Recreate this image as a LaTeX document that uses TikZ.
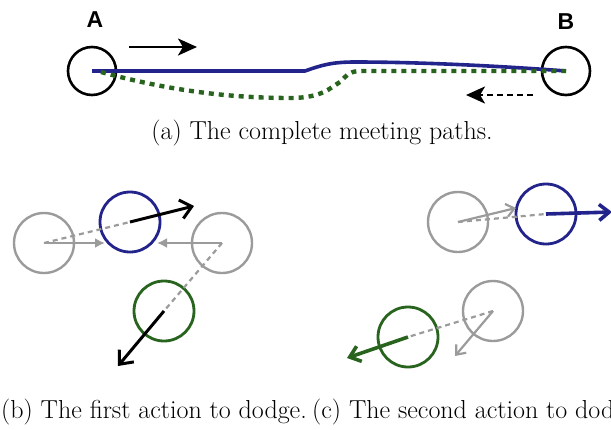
\documentclass[tikz,border=0pt]{standalone}
\usepackage{fontspec}
\newfontfamily\labfont{Liberation Sans}
\usetikzlibrary{arrows.meta}
\definecolor{pblue}{RGB}{35,35,140}
\definecolor{pgreen}{RGB}{40,100,30}
\definecolor{pgray}{RGB}{155,155,155}
\begin{document}
\begin{tikzpicture}[x=1pt,y=-1pt,
  endpt/.style={circle,draw=black,line width=2.6,minimum size=48,inner sep=0},
  agent/.style={circle,draw=pgray,line width=2.4,minimum size=60,inner sep=0},
  bagent/.style={agent,draw=pblue,line width=2.8},
  gagent/.style={agent,draw=pgreen,line width=2.8},
  captext/.style={font=\fontsize{26}{30}\selectfont,inner sep=0},
  lab/.style={font=\labfont\bfseries\fontsize{23}{27}\selectfont,inner sep=0},
  bigarrow/.style={line width=2.6,-{Stealth[length=19,width=17,inset=5]}},
  blackvel/.style={line width=3,-{Straight Barb[length=11,width=19]}},
  grayvel/.style={pgray,line width=2.2,-{Latex[length=10,width=10]}},
  grayvelc/.style={pgray,line width=2.2,-{Straight Barb[length=8,width=13]}},
  graydash/.style={pgray,line width=2.2,dash pattern=on 5 off 4},
  bluepath/.style={pblue,line width=3.6},
  greenpath/.style={pgreen,line width=4.4,dash pattern=on 5 off 5}
]
\useasboundingbox (0,0) rectangle (611,429);
\clip (0,0) rectangle (611,429);
% ---------- (a) ----------
\node[endpt] (A) at (92,71) {};
\node[endpt] (B) at (566,71) {};
\node[lab] (la) at (95,20) {A};
\node[lab] (lb) at (566,22) {B};
\coordinate (a1) at (129,47);
\coordinate (a2) at (197,47);
\draw[bigarrow] (a1) -- (a2);
\coordinate (d1) at (533,95);
\coordinate (d2) at (466,95);
\draw[bigarrow,dash pattern=on 6 off 4] (d1) -- (d2);
\draw[bluepath] (A.center) -- (305,71) .. controls (322,65) and (332,62) .. (355,62)
   .. controls (420,62) and (500,66) .. (B.center);
\draw[greenpath] (101,72) .. controls (160,88) and (220,98) .. (290,98)
   .. controls (322,98) and (330,88) .. (340,82)
   .. controls (348,74) and (350,71) .. (362,71) -- (B.center);
\node[captext,anchor=base] (capa) at (322,139) {(a) The complete meeting paths.};
% ---------- (b) ----------
\node[agent] (bl) at (44,243) {};
\node[bagent] (bb) at (130,222) {};
\node[agent] (br) at (222,243) {};
\node[gagent] (bg) at (164,311) {};
\coordinate (bt1) at (105,243);
\coordinate (bt2) at (157,243);
\coordinate (bv1) at (194,206);
\coordinate (bv2) at (118,366);
\draw[graydash] (bl.center) -- (bb.center);
\draw[graydash] (br.center) -- (bg.center);
\draw[grayvel] (bl.center) -- (bt1);
\draw[grayvel] (br.center) -- (bt2);
\draw[blackvel] (bb.center) -- (bv1);
\draw[blackvel] (bg.center) -- (bv2);
% ---------- (c) ----------
\node[agent] (cl) at (458,222) {};
\node[bagent] (cb) at (546,214) {};
\node[agent] (cr) at (493,311) {};
\node[gagent] (cg) at (408,337) {};
\coordinate (ct1) at (516,208);
\coordinate (ct2) at (455,356);
\coordinate (cv1) at (612,212);
\coordinate (cv2) at (347,358);
\draw[graydash] (cl.center) -- (cb.center);
\draw[graydash] (cr.center) -- (cg.center);
\draw[grayvelc] (cl.center) -- (ct1);
\draw[grayvelc] (cr.center) -- (ct2);
\draw[pblue,line width=3.6,-{Straight Barb[length=10,width=16]}] (cb.center) -- (cv1);
\draw[pgreen,line width=3.6,-{Straight Barb[length=10,width=16]}] (cg.center) -- (cv2);
% ---------- captions ----------
\node[captext,anchor=base west] (capb) at (1,418) {(b) The first action to dodge.};
\node[captext,anchor=base west] (capc) at (312,418) {(c) The second action to dodge.};
\end{tikzpicture}
\end{document}
